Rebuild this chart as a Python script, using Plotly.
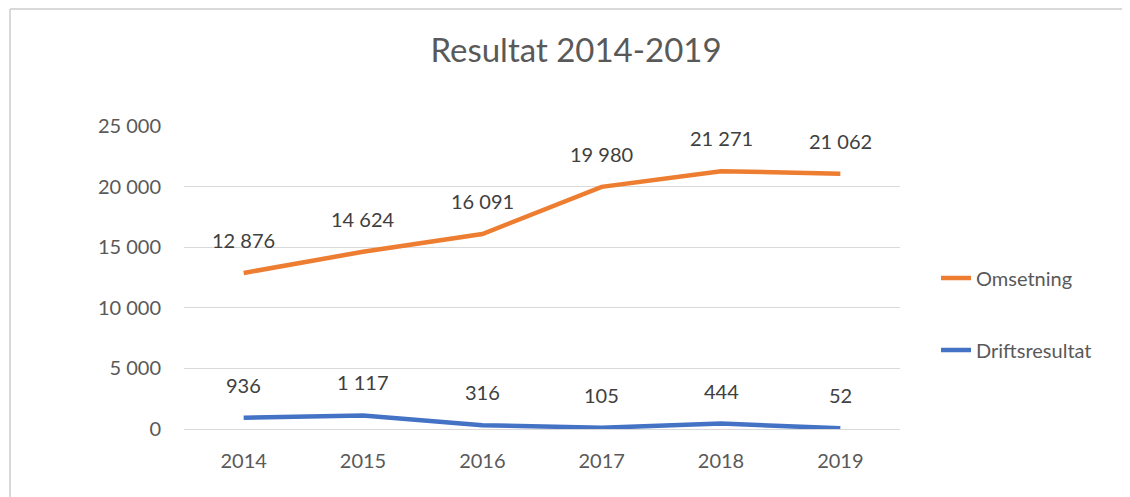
import plotly.graph_objects as go

years = ["2014", "2015", "2016", "2017", "2018", "2019"]
omsetning = [12876, 14624, 16091, 19980, 21271, 21062]
driftsresultat = [936, 1117, 316, 105, 444, 52]

FONT = "Lato"
GRID = "#d9d9d9"


def fmt(v):
    return f"{v:,}".replace(",", " ")


x = list(range(len(years)))

fig = go.Figure()
fig.add_trace(go.Scatter(
    x=x, y=omsetning, name="Omsetning", mode="lines", showlegend=True,
    line=dict(color="#ED7D31", width=4.5), legend="legend",
))
fig.add_trace(go.Scatter(
    x=x, y=driftsresultat, name="Driftsresultat", mode="lines", showlegend=True,
    line=dict(color="#4472C4", width=4.5), legend="legend2",
))

# data labels above each point
for series in (omsetning, driftsresultat):
    for xi, v in zip(x, series):
        fig.add_annotation(
            x=xi, y=v, text=fmt(v), showarrow=False, yshift=33,
            font=dict(family=FONT, size=20, color="#404040"),
        )

# chart border (left and top edges visible in the reference)
bx = (10 - 184) / 716
by = 420 / 303
fig.add_shape(type="line", xref="paper", yref="paper", x0=bx, x1=bx, y0=-0.4, y1=by,
              line=dict(color=GRID, width=2))
fig.add_shape(type="line", xref="paper", yref="paper", x0=bx, x1=1.5, y0=by, y1=by,
              line=dict(color=GRID, width=2))

# page body adds an 8px offset, so positions are shifted back by 8px
fig.update_layout(
    width=1130, height=497,
    margin=dict(l=176, r=238, t=118, b=76),
    paper_bgcolor="white", plot_bgcolor="white",
    showlegend=True,
    separators=", ",
    font=dict(family=FONT, size=20, color="#595959"),
    title=dict(text="Resultat 2014-2019", x=568 / 1130, xanchor="center",
               y=1 - 42 / 497, yanchor="middle",
               font=dict(family=FONT, size=33, color="#595959")),
    legend=dict(x=(936 - 184) / 716, y=(429 - 278) / 303, xanchor="left", yanchor="middle",
                font=dict(family=FONT, size=20, color="#595959"), bgcolor="rgba(0,0,0,0)"),
    legend2=dict(x=(936 - 184) / 716, y=(429 - 350) / 303, xanchor="left", yanchor="middle",
                 font=dict(family=FONT, size=20, color="#595959"), bgcolor="rgba(0,0,0,0)"),
)
fig.update_xaxes(
    range=[-0.5, len(years) - 0.5], tickmode="array", tickvals=x, ticktext=years,
    showgrid=False, zeroline=False, showline=False, ticks="", ticklabelstandoff=18,
    fixedrange=True,
)
fig.update_yaxes(
    range=[0, 25000], dtick=5000, tickformat=",d", showgrid=True, gridcolor=GRID,
    gridwidth=1, zeroline=True, zerolinecolor=GRID, zerolinewidth=1, showline=False,
    ticks="", ticklabelstandoff=22, fixedrange=True,
)

fig.write_html("out.html")
